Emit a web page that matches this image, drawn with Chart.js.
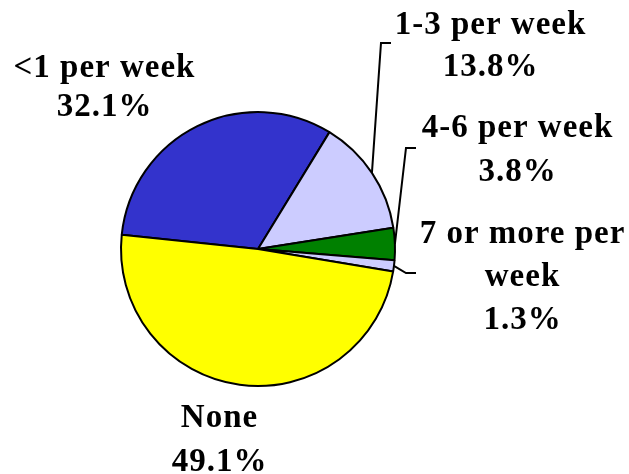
<!DOCTYPE html>
<html>
<head>
<meta charset="utf-8">
<script src="https://cdn.jsdelivr.net/npm/chart.js@4/dist/chart.umd.min.js"></script>
<style>
  html, body { margin: 0; padding: 0; background: #ffffff; }
  canvas { display: block; }
</style>
</head>
<body>
<canvas id="pie" width="629" height="474"></canvas>
<script>
// Weekly frequency categories and their share of respondents (%)
const categories = ['<1 per week', '1-3 per week', '4-6 per week', '7 or more per week', 'None'];
const shares = [32.1, 13.8, 3.8, 1.3, 49.1];
const sliceColors = ['#3333CC', '#CCCCFF', '#008000', '#CCCCFF', '#FFFF00'];

// Label text lines for each slice (the value line is appended from the data)
const labelLines = [['<1 per week'], ['1-3 per week'], ['4-6 per week'], ['7 or more per', 'week'], ['None']];

// Label layout: centre x, first baseline y, line step; optional elbow leader line
const labelLayout = [
  { x: 104, y: 77, step: 39 },
  { x: 490, y: 34, step: 42, elbow: [381, 43], tick: [391, 43] },
  { x: 517, y: 137, step: 44, elbow: [406, 148], tick: [416, 148] },
  { x: 522, y: 243, step: 43, elbow: [406, 273], tick: [416, 273] },
  { x: 219, y: 427, step: 44 }
];

const labelPlugin = {
  id: 'sliceLabels',
  afterDatasetsDraw(chart) {
    const ctx = chart.ctx;
    const arcs = chart.getDatasetMeta(0).data;
    ctx.save();
    ctx.font = 'bold 33px "Liberation Serif", "Times New Roman", serif';
    ctx.fillStyle = '#000000';
    ctx.textAlign = 'center';
    ctx.textBaseline = 'alphabetic';
    const spacing = 1;
    if ('letterSpacing' in ctx) ctx.letterSpacing = spacing + 'px';
    arcs.forEach((arc, i) => {
      const lay = labelLayout[i];
      const p = arc.getProps(['x', 'y', 'startAngle', 'endAngle', 'outerRadius'], true);
      if (lay.elbow) {
        const mid = (p.startAngle + p.endAngle) / 2;
        const ex = p.x + Math.cos(mid) * p.outerRadius;
        const ey = p.y + Math.sin(mid) * p.outerRadius;
        ctx.beginPath();
        ctx.strokeStyle = '#000000';
        ctx.lineWidth = 2;
        ctx.moveTo(ex, ey);
        ctx.lineTo(lay.elbow[0], lay.elbow[1]);
        ctx.lineTo(lay.tick[0], lay.tick[1]);
        ctx.stroke();
      }
      const lines = labelLines[i].concat([shares[i].toFixed(1) + '%']);
      lines.forEach((t, k) => {
        ctx.fillText(t, lay.x + spacing / 2, lay.y + k * lay.step);
      });
    });
    ctx.restore();
  }
};

new Chart(document.getElementById('pie'), {
  type: 'pie',
  data: {
    labels: categories,
    datasets: [{
      data: shares,
      backgroundColor: sliceColors,
      borderColor: '#000000',
      borderWidth: 2
    }]
  },
  options: {
    responsive: false,
    devicePixelRatio: 1,
    animation: false,
    rotation: -84,
    radius: 137,
    layout: { padding: { left: 0, right: 113, top: 24, bottom: 0 } },
    plugins: {
      legend: { display: false },
      tooltip: { enabled: false }
    }
  },
  plugins: [labelPlugin]
});
</script>
</body>
</html>
